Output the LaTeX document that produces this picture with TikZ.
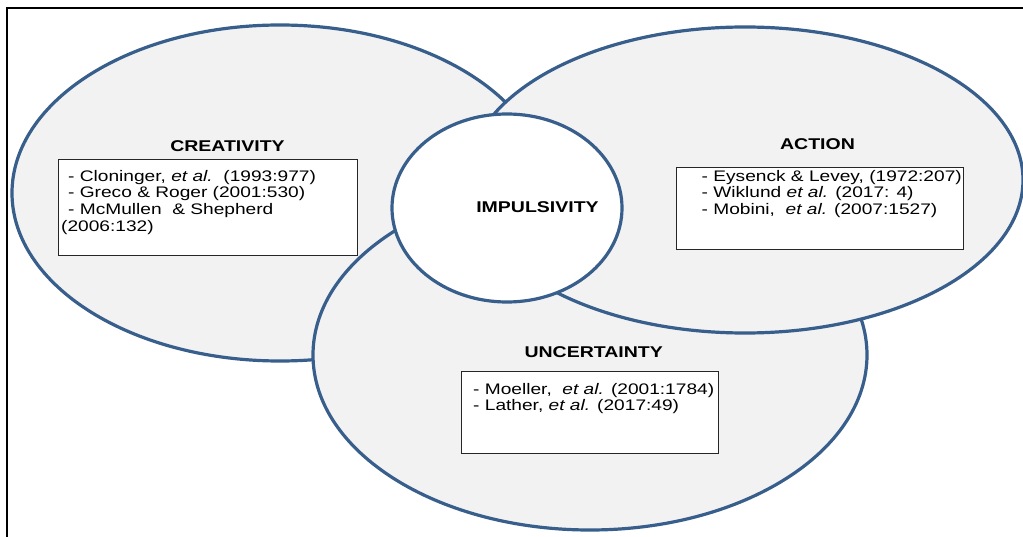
\documentclass[tikz,border=0pt]{standalone}
\usepackage{fontspec}
\setmainfont{Liberation Sans}[FakeStretch=1.25]
\usetikzlibrary{shapes.geometric}
\definecolor{rim}{RGB}{56,94,140}
\definecolor{pale}{RGB}{242,242,242}

\begin{document}
\begin{tikzpicture}[x=1pt,y=-1pt,
  bubble/.style={ellipse, draw=rim, line width=3.2pt, fill=pale, inner sep=0pt, outer sep=0pt},
  core/.style={bubble, fill=white},
  head/.style={font=\fontsize{15.6}{18}\selectfont\bfseries, inner sep=0pt, anchor=base},
  refbox/.style={rectangle, draw=black!85, line width=0.9pt, fill=white, inner sep=0pt, anchor=north west},
  ref/.style={font=\fontsize{15.3}{17}\selectfont, inner sep=0pt, anchor=base west}]
\useasboundingbox (0,0) rectangle (1023,537);

% frame edges
\draw[line width=2pt] (7,537) -- (7,8) -- (1023,8);

% overlapping ellipses, back to front
\node[bubble, minimum width=536pt, minimum height=336pt] (creativity) at (280,193) {};
\node[bubble, minimum width=554pt, minimum height=350pt] (uncertainty) at (590,355) {};
\node[bubble, minimum width=556pt, minimum height=306pt] (action) at (745,180) {};
\node[core, minimum width=230pt, minimum height=188pt] (impulsivity) at (507,208) {};

% headings
\node[head] (creativityhead) at (227.5,152) {CREATIVITY};
\node[head] (actionhead) at (817.5,150) {ACTION};
\node[head] (uncertaintyhead) at (593.7,357) {UNCERTAINTY};
\node[head] (impulsivityhead) at (537.5,212.3) {IMPULSIVITY};

% reference boxes
\node[refbox, minimum width=299pt, minimum height=96pt] (creativitybox) at (58,159) {};
\node[refbox, minimum width=287pt, minimum height=82pt] (actionbox) at (676,167) {};
\node[refbox, minimum width=257pt, minimum height=82pt] (uncertaintybox) at (461,371) {};

% creativity references
\node[ref] (c1) at (68,181.5) {- Cloninger, \textit{et al.}\ \ (1993:977)};
\node[ref] (c2) at (68,198) {- Greco \& Roger (2001:530)};
\node[ref] (c3) at (68,214.5) {- McMullen\ \ \& Shepherd};
\node[ref] (c4) at (61,231.5) {(2006:132)};

% action references
\node[ref] (a1) at (701.5,181.5) {- Eysenck \& Levey, (1972:207)};
\node[ref] (a2) at (701.5,198) {- Wiklund \textit{et al.} (2017: 4)};
\node[ref] (a3) at (701.5,214.5) {- Mobini, \ \textit{et al.} (2007:1527)};

% uncertainty references
\node[ref] (u1) at (473,394) {- Moeller, \ \textit{et al.} (2001:1784)};
\node[ref] (u2) at (473,410.5) {- Lather, \textit{et al.} (2017:49)};
\end{tikzpicture}
\end{document}
